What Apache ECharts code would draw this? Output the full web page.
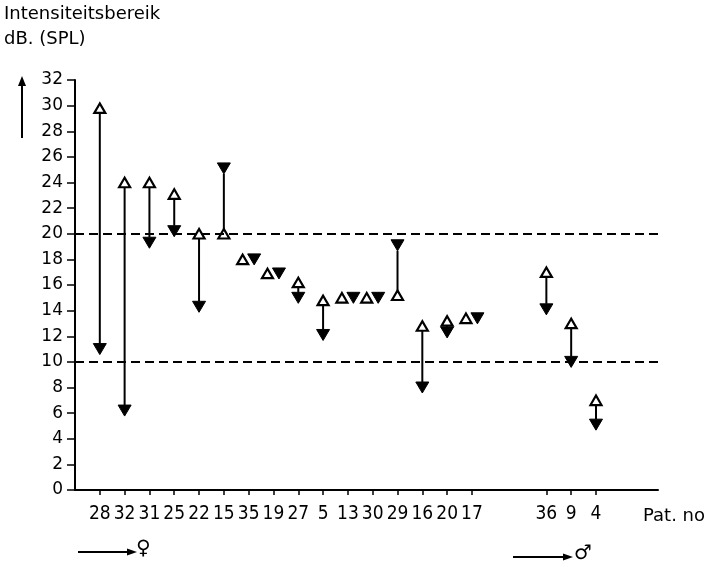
<!DOCTYPE html>
<html>
<head>
<meta charset="utf-8">
<script src="https://cdn.jsdelivr.net/npm/echarts@6/dist/echarts.min.js"></script>
<style>
  html, body { margin: 0; padding: 0; background: #fff; }
  #chart { width: 712px; height: 567px; }
</style>
</head>
<body>
<div id="chart"></div>
<script>
// Categories along the x axis (blank slots form the gap between the two groups)
const categories = ['28','32','31','25','22','15','35','19','27','5','13','30','29','16','20','17','','','36','9','4'];
// Patients in drawing order
const patients = ['28','32','31','25','22','15','35','19','27','5','13','30','29','16','20','17','36','9','4'];
// Open triangle values (dB SPL)
const openValues = [29.8, 24, 24, 23.1, 20, 20, 18, 16.9, 16.2, 14.8, 15, 15, 15.2, 12.8, 13.2, 13.4, 17, 13, 7];
// Filled triangle values (dB SPL)
const filledValues = [11, 6.2, 19.3, 20.2, 14.3, 25.1, 18, 16.9, 15, 12.1, 15, 15, 19.1, 8, 12.3, 13.4, 14.1, 10, 5.1];
// Reference lines
const refLines = [20, 10];
// Y tick range
const yMin = 0, yMax = 32, yStep = 2;

const seriesData = patients.map((p, i) => [categories.indexOf(p), openValues[i], filledValues[i]]);
const patientPositions = patients.map(p => categories.indexOf(p));

const chart = echarts.init(document.getElementById('chart'), null, { renderer: 'canvas' });

const labelFont = 'DejaVu Sans Condensed, DejaVu Sans, sans-serif';
const titleFont = 'DejaVu Sans, sans-serif';

function upTri(cx, cy, w, h) {
  return [[cx, cy - h / 2], [cx - w / 2, cy + h / 2], [cx + w / 2, cy + h / 2]];
}
function downTri(cx, cy, w, h) {
  return [[cx - w / 2, cy - h / 2], [cx + w / 2, cy - h / 2], [cx, cy + h / 2]];
}

function renderItem(params, api) {
  const x = api.value(0), vo = api.value(1), vf = api.value(2);
  const po = api.coord([x, vo]);
  const pf = api.coord([x, vf]);
  const ow = 11, oh = 9.5, fw = 13, fh = 11;
  const children = [];
  const openStyle = { fill: '#fff', stroke: '#000', lineWidth: 2.2, lineJoin: 'miter' };
  const filledStyle = { fill: '#000', stroke: '#000', lineWidth: 1 };
  if (Math.abs(vo - vf) < 0.3) {
    children.push({ type: 'polygon', shape: { points: upTri(po[0] - 6, po[1], ow, oh) }, style: openStyle });
    children.push({ type: 'polygon', shape: { points: downTri(po[0] + 5.5, po[1], fw, fh) }, style: filledStyle });
  } else {
    let y1, y2;
    if (pf[1] > po[1]) { y1 = po[1] + oh / 2; y2 = pf[1] - fh / 2; }
    else { y1 = po[1] - oh / 2; y2 = pf[1] + fh / 2; }
    children.push({ type: 'line', shape: { x1: po[0], y1: y1, x2: pf[0], y2: y2 }, style: { stroke: '#000', lineWidth: 2 } });
    children.push({ type: 'polygon', shape: { points: upTri(po[0], po[1], ow, oh) }, style: openStyle });
    children.push({ type: 'polygon', shape: { points: downTri(pf[0], pf[1], fw, fh) }, style: filledStyle });
  }
  return { type: 'group', children: children };
}

const option = {
  backgroundColor: '#fff',
  animation: false,
  grid: { left: 75, right: 54, top: 80, bottom: 77, containLabel: false },
  xAxis: {
    type: 'value',
    min: -1,
    max: 22.5,
    interval: 1,
    splitLine: { show: false },
    axisLine: { show: true, onZero: false, lineStyle: { color: '#000', width: 2 } },
    axisTick: { show: true, length: 5, customValues: patientPositions, lineStyle: { color: '#000', width: 1.5 } },
    axisLabel: {
      customValues: patientPositions,
      formatter: v => categories[Math.round(v)] || '',
      color: '#000', fontSize: 19, fontFamily: labelFont, margin: 15
    }
  },
  yAxis: {
    type: 'value',
    min: yMin, max: yMax, interval: yStep,
    splitLine: { show: false },
    axisLine: { show: true, onZero: false, lineStyle: { color: '#000', width: 2 } },
    axisTick: { show: true, length: 8, lineStyle: { color: '#000', width: 1.5 } },
    axisLabel: { color: '#000', fontSize: 17, fontFamily: titleFont, margin: 12 }
  },
  series: [{
    type: 'custom',
    renderItem: renderItem,
    encode: { x: 0, y: [1, 2] },
    data: seriesData,
    silent: true,
    markLine: {
      silent: true,
      symbol: 'none',
      label: { show: false },
      lineStyle: { color: '#000', type: [9, 5], width: 1.8 },
      data: refLines.map(v => ({ yAxis: v }))
    }
  }],
  graphic: [
    { type: 'text', left: 4, top: 5, style: { text: 'Intensiteitsbereik', fontSize: 18, fontFamily: titleFont, fill: '#000' } },
    { type: 'text', left: 4, top: 30, style: { text: 'dB. (SPL)', fontSize: 18, fontFamily: titleFont, fill: '#000' } },
    // vertical arrow left of y axis
    { type: 'line', shape: { x1: 22, y1: 138, x2: 22, y2: 84 }, style: { stroke: '#000', lineWidth: 2 } },
    { type: 'polygon', shape: { points: [[18, 86], [26, 86], [22, 76]] }, style: { fill: '#000' } },
    // axis name
    { type: 'text', left: 643, top: 507, style: { text: 'Pat. no', fontSize: 18, fontFamily: titleFont, fill: '#000' } },
    // female marker
    { type: 'line', shape: { x1: 78, y1: 552, x2: 130, y2: 552 }, style: { stroke: '#000', lineWidth: 2 } },
    { type: 'polygon', shape: { points: [[127, 548.5], [127, 555.5], [137, 552]] }, style: { fill: '#000' } },
    { type: 'text', left: 136, top: 539, style: { text: '♀', fontSize: 20, fontFamily: titleFont, fill: '#000' } },
    // male marker
    { type: 'line', shape: { x1: 513, y1: 557, x2: 566, y2: 557 }, style: { stroke: '#000', lineWidth: 2 } },
    { type: 'polygon', shape: { points: [[563, 553.5], [563, 560.5], [573, 557]] }, style: { fill: '#000' } },
    { type: 'text', left: 574, top: 544, style: { text: '♂', fontSize: 20, fontFamily: titleFont, fill: '#000' } }
  ]
};

chart.setOption(option);
</script>
</body>
</html>
